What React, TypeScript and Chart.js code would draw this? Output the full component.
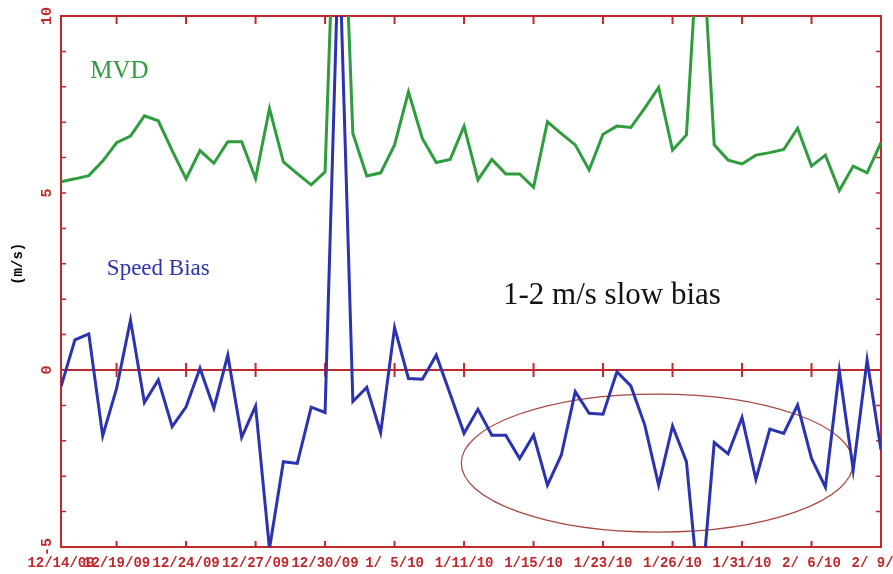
import React, { useEffect, useRef } from 'react';
import { Chart, registerables } from 'chart.js';

Chart.register(...registerables);

// ---- data ----
const tickIndex = [0, 4, 9, 14, 19, 24, 29, 34, 39, 44, 49, 54, 59];
const tickLabels = ['12/14/09', '12/19/09', '12/24/09', '12/27/09', '12/30/09', '1/ 5/10', '1/11/10', '1/15/10', '1/23/10', '1/26/10', '1/31/10', '2/ 6/10', '2/ 9/10'];
const yTicks = [-5, 0, 5, 10];

const mvd = [
  5.32, 5.40, 5.49, 5.9, 6.42, 6.61, 7.18, 7.04, 6.2, 5.4,
  6.2, 5.84, 6.45, 6.45, 5.41, 7.39, 5.88, 5.55, 5.23, 5.6,
  17.0, 6.68, 5.48, 5.57, 6.36, 7.86, 6.54, 5.86, 5.95, 6.89,
  5.37, 5.95, 5.54, 5.54, 5.16, 7.01, 6.68, 6.36, 5.65, 6.66,
  6.89, 6.85, 7.4, 7.98, 6.21, 6.64, 13.2, 6.36, 5.93, 5.82,
  6.07, 6.14, 6.23, 6.83, 5.76, 6.07, 5.07, 5.76, 5.57, 6.42,
];

const speedBias = [
  -0.47, 0.85, 1.02, -1.86, -0.52, 1.41, -0.92, -0.28, -1.6, -1.04,
  0.05, -1.08, 0.42, -1.9, -1.02, -5.05, -2.59, -2.64, -1.05, -1.2,
  12.3, -0.89, -0.49, -1.77, 1.2, -0.24, -0.26, 0.42, -0.68, -1.79,
  -1.11, -1.84, -1.84, -2.5, -1.84, -3.25, -2.4, -0.61, -1.22, -1.25,
  -0.05, -0.45, -1.55, -3.25, -1.58, -2.59, -6.7, -2.05, -2.37, -1.34,
  -3.09, -1.67, -1.79, -0.99, -2.5, -3.31, -0.02, -2.82, 0.28, -2.26,
];

// ---- styles ----
const RED = '#c0282b';
const GREEN = '#2f9c3e';
const BLUE = '#2b33ae';
const ELLIPSE = '#a8453c';

const framePlugin = {
  id: 'frame',
  beforeDatasetsDraw(chart: any) {
    const { ctx, chartArea: a, scales } = chart;
    const x = scales.x;
    const y = scales.y;
    ctx.save();
    ctx.strokeStyle = RED;
    ctx.lineWidth = 2;
    ctx.strokeRect(a.left, a.top, a.right - a.left, a.bottom - a.top);
    const y0 = y.getPixelForValue(0);
    ctx.beginPath();
    ctx.moveTo(a.left, y0);
    ctx.lineTo(a.right, y0);
    ctx.stroke();
    // x tick marks (top, bottom, zero line)
    x.ticks.forEach((t: any) => {
      const px = x.getPixelForValue(t.value);
      if (px <= a.left + 1 || px >= a.right - 1) return;
      ctx.beginPath();
      ctx.moveTo(px, a.top);
      ctx.lineTo(px, a.top + 8);
      ctx.moveTo(px, a.bottom);
      ctx.lineTo(px, a.bottom - 6);
      ctx.moveTo(px, y0 - 7);
      ctx.lineTo(px, y0 + 7);
      ctx.stroke();
    });
    // y minor ticks every 1 unit
    ctx.lineWidth = 1.5;
    for (let v = Math.ceil(y.min) + 1; v < y.max; v++) {
      const py = y.getPixelForValue(v);
      ctx.beginPath();
      ctx.moveTo(a.left, py);
      ctx.lineTo(a.left + 5, py);
      ctx.moveTo(a.right, py);
      ctx.lineTo(a.right - 5, py);
      ctx.stroke();
    }
    // ellipse highlighting the slow-bias period
    const cx = x.getPixelForValue(42.9);
    const cy = y.getPixelForValue(-2.63);
    const rx = x.getPixelForValue(42.9 + 14.1) - cx;
    const ry = cy - y.getPixelForValue(-2.63 + 1.95);
    ctx.strokeStyle = ELLIPSE;
    ctx.lineWidth = 1.2;
    ctx.beginPath();
    ctx.ellipse(cx, cy, rx, ry, 0, 0, Math.PI * 2);
    ctx.stroke();
    ctx.restore();
  },
  afterDraw(chart: any) {
    const { ctx, scales } = chart;
    const x = scales.x;
    const y = scales.y;
    ctx.save();
    ctx.textBaseline = 'alphabetic';
    ctx.textAlign = 'left';
    ctx.fillStyle = GREEN;
    ctx.font = '25px "Liberation Serif"';
    ctx.fillText('MVD', x.getPixelForValue(2.1), y.getPixelForValue(8.25));
    ctx.fillStyle = BLUE;
    ctx.font = '23px "Liberation Serif"';
    ctx.fillText('Speed Bias', x.getPixelForValue(3.3), y.getPixelForValue(2.68));
    ctx.fillStyle = '#111111';
    ctx.font = '31px "Liberation Serif"';
    ctx.fillText('1-2 m/s slow bias', x.getPixelForValue(31.8), y.getPixelForValue(1.86));
    // y-axis title
    ctx.translate(18, y.getPixelForValue(3.0));
    ctx.rotate(-Math.PI / 2);
    ctx.textAlign = 'center';
    ctx.textBaseline = 'middle';
    ctx.fillStyle = '#000000';
    ctx.font = 'bold 14px "Liberation Mono"';
    ctx.fillText('(m/s)', 0, 0);
    ctx.restore();
  },
};

export default function App() {
  const canvasRef = useRef<HTMLCanvasElement | null>(null);

  useEffect(() => {
    const canvas = canvasRef.current;
    if (!canvas) return;
    const chart = new Chart(canvas, {
      type: 'line',
      data: {
        datasets: [
          {
            label: 'MVD',
            data: mvd.map((v, i) => ({ x: i, y: v })),
            borderColor: GREEN,
            borderWidth: 3,
            pointRadius: 0,
            tension: 0,
            fill: false,
          },
          {
            label: 'Speed Bias',
            data: speedBias.map((v, i) => ({ x: i, y: v })),
            borderColor: BLUE,
            borderWidth: 3,
            pointRadius: 0,
            tension: 0,
            fill: false,
          },
        ],
      },
      options: {
        responsive: true,
        maintainAspectRatio: false,
        animation: false,
        layout: { padding: { top: 16, right: 12, left: 0, bottom: 0 } },
        plugins: {
          legend: { display: false },
          tooltip: { enabled: false },
          title: { display: false },
        },
        scales: {
          x: {
            type: 'linear',
            min: 0,
            max: 59,
            grid: { display: false, drawTicks: false },
            border: { display: false },
            afterBuildTicks: (s: any) => {
              s.ticks = tickIndex.map((v) => ({ value: v }));
            },
            afterFit: (s: any) => {
              s.height = 27;
              s.paddingLeft = 0;
              s.paddingRight = 0;
            },
            ticks: {
              autoSkip: false,
              maxRotation: 0,
              minRotation: 0,
              padding: 8,
              color: RED,
              font: { family: 'Liberation Mono', size: 14, weight: 'bold' },
              callback: (_v: any, i: number) => tickLabels[i],
            },
          },
          y: {
            type: 'linear',
            min: -5,
            max: 10,
            grid: { display: false, drawTicks: false },
            border: { display: false },
            afterBuildTicks: (s: any) => {
              s.ticks = yTicks.map((v) => ({ value: v }));
            },
            afterFit: (s: any) => {
              s.width = 61;
              s.paddingTop = 0;
              s.paddingBottom = 0;
            },
            ticks: {
              minRotation: 90,
              maxRotation: 90,
              crossAlign: 'center',
              padding: 5,
              color: RED,
              font: { family: 'Liberation Mono', size: 15, weight: 'bold' },
              callback: (v: any) => String(v),
            },
          },
        },
      },
      plugins: [framePlugin],
    } as any);
    return () => chart.destroy();
  }, []);

  return (
    <div style={{ position: 'fixed', left: 0, top: 0, width: 893, height: 574, background: '#ffffff' }}>
      <canvas ref={canvasRef} />
    </div>
  );
}
